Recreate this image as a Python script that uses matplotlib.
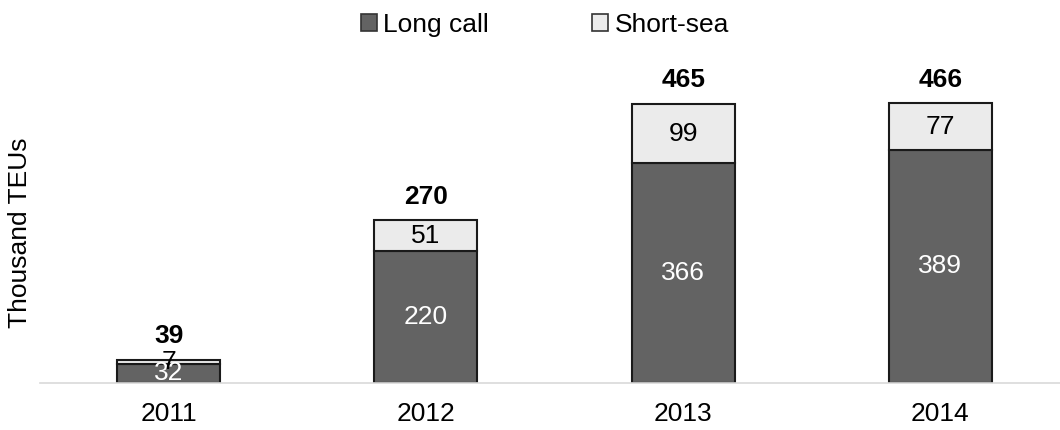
import matplotlib
matplotlib.use("Agg")
from matplotlib import pyplot as plt
from matplotlib.patches import Patch
import numpy as np

plt.rcParams['font.family'] = ['Liberation Sans', 'DejaVu Sans']

# data
years = ['2011', '2012', '2013', '2014']
long_call = [32, 220, 366, 389]
short_sea = [7, 51, 99, 77]
totals = [39, 270, 465, 466]

dark = '#636363'
light = '#ebebeb'
edge = '#1a1a1a'
fs = 19

fig = plt.figure(figsize=(10.6, 4.3), dpi=100)
ax = fig.add_axes([40/1060., 47/430., 1029/1060., 300/430.])

x = np.arange(len(years))
w = 0.4
ax.bar(x, long_call, w, color=dark, edgecolor=edge, linewidth=1.5, label='Long call')
ax.bar(x, short_sea, w, bottom=long_call, color=light, edgecolor=edge, linewidth=1.5, label='Short-sea')

# segment labels
for i in range(len(years)):
    ax.text(x[i], long_call[i]/2., str(long_call[i]), ha='center', va='center',
            color='white', fontsize=fs)
    ax.text(x[i], long_call[i] + short_sea[i]/2., str(short_sea[i]), ha='center', va='center',
            color='black', fontsize=fs)
    ax.annotate(str(totals[i]), (x[i], long_call[i] + short_sea[i]), xytext=(0, 17),
                textcoords='offset points', ha='center', va='center',
                fontsize=fs, fontweight='bold')

ax.set_xlim(-0.5, 3.5)
ax.set_ylim(0, 500)
ax.set_xticks(x)
ax.set_xticklabels(years, fontsize=fs)
ax.tick_params(axis='x', length=0, pad=14)
ax.set_yticks([])
ax.set_ylabel('Thousand TEUs', fontsize=fs, va='center')
ax.yaxis.set_label_coords(-20/1029., 0.5)
for s in ['top', 'right', 'left']:
    ax.spines[s].set_visible(False)
ax.spines['bottom'].set_color('#d9d9d9')
ax.spines['bottom'].set_linewidth(1.2)

handles = [Patch(facecolor=dark, edgecolor='#333333', linewidth=1.2, label='Long call'),
           Patch(facecolor=light, edgecolor='#333333', linewidth=1.2, label='Short-sea')]
fig.legend(handles=handles, loc='center', bbox_to_anchor=(0.514, 1 - 25/430.), ncol=2,
           frameon=False, fontsize=fs, handlelength=0.6, handleheight=0.6,
           handletextpad=0.25, columnspacing=3.9)

fig.savefig('out.png', dpi=100)
plt.close()
